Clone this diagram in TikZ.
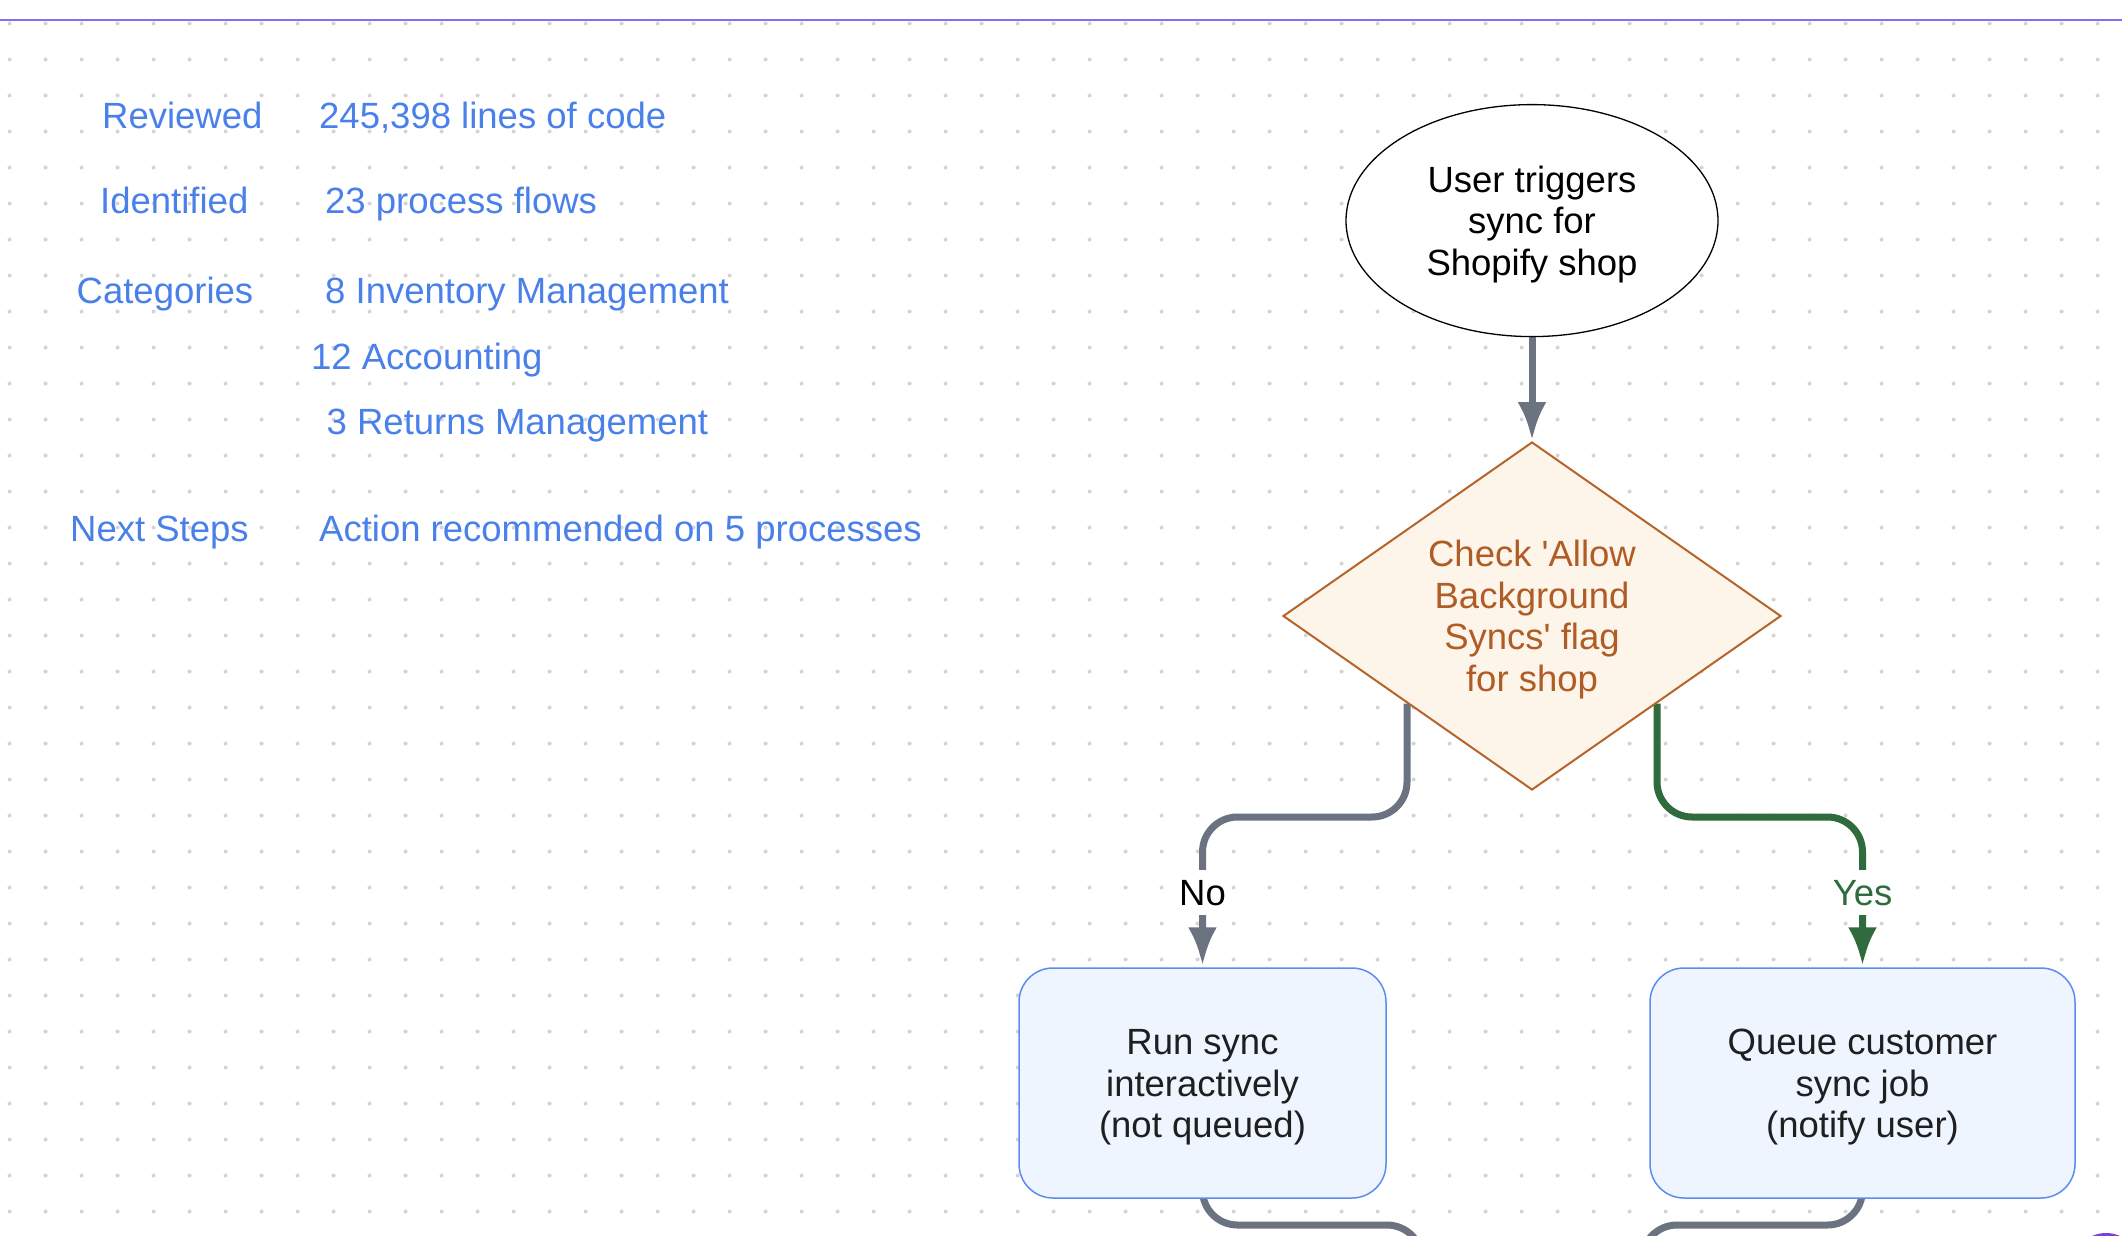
\documentclass[tikz,border=0pt]{standalone}
\usepackage{fontspec}
\setmainfont{Liberation Sans}
\usetikzlibrary{shapes.geometric,arrows.meta,calc,backgrounds}
\definecolor{dotc}{HTML}{D4D4D8}
\definecolor{txtblue}{HTML}{4A80EA}
\definecolor{linegray}{HTML}{6B7280}
\definecolor{yesgreen}{HTML}{2F6B3C}
\definecolor{decfill}{HTML}{FDF4EA}
\definecolor{decdraw}{HTML}{B5652B}
\definecolor{dectext}{HTML}{B05C26}
\definecolor{boxfill}{HTML}{EEF5FF}
\definecolor{boxdraw}{HTML}{5B8DEF}
\definecolor{boxtext}{HTML}{1F1F1F}
\definecolor{topline}{HTML}{8B6CF2}
\definecolor{fabc}{HTML}{7E3FD6}
\newcommand\diagfont{\fontsize{36.5pt}{41.5pt}\selectfont}
\newcommand\highstrut{\rule{0pt}{34pt}}
\begin{document}
\begin{tikzpicture}[x=1pt,y=-1pt,
  stat/.style={anchor=base west, inner sep=0pt, text=txtblue, font=\diagfont},
  startnode/.style={ellipse, draw=black, line width=1.3pt, fill=white, minimum width=372pt, minimum height=232pt, inner sep=0pt, align=center, font=\diagfont},
  decnode/.style={diamond, aspect=1.431, draw=decdraw, fill=decfill, line width=2pt, minimum width=498pt, minimum height=348pt, inner sep=0pt, align=center, text=dectext, font=\diagfont},
  procbox/.style={rectangle, rounded corners=34pt, draw=boxdraw, fill=boxfill, line width=1.5pt, minimum height=230pt, inner sep=0pt, align=center, text=boxtext, font=\diagfont},
  conn/.style={line width=7pt, rounded corners=35pt},
  tipend/.style={-{Latex[length=38pt,width=29pt]}},
  edgelbl/.style={fill=white, inner xsep=3pt, inner ysep=9.5pt, text height=26pt, text depth=0pt, font=\diagfont}
]
\useasboundingbox (0,0) rectangle (2122,1236);
\clip (0,0) rectangle (2122,1236);
\begin{scope}[on background layer]
  \fill[white] (0,0) rectangle (2122,1236);
  \foreach \i in {0,...,58} {
    \foreach \j in {0,...,33} {
      \fill[dotc] (9.6+36*\i, 23.5+36*\j) circle (2pt);
    }
  }
\end{scope}
\draw[topline, line width=2.2pt] (0,20) -- (2122,20);

% left statistics
\node[stat] (l1) at (102,128.5) {Reviewed};
\node[stat] (r1) at (319,128.5) {245,398 lines of code};
\node[stat] (l2) at (100,213) {Identified};
\node[stat] (r2) at (325,213.5) {23 process flows};
\node[stat] (l3) at (76.5,303.5) {Categories};
\node[stat] (r3) at (325,303) {8 Inventory Management};
\node[stat] (r4) at (311,369.5) {12 Accounting};
\node[stat] (r5) at (326.5,434.5) {3 Returns Management};
\node[stat] (l4) at (70,541) {Next Steps};
\node[stat] (r6) at (319,541) {Action recommended on 5 processes};

% flowchart
\node[startnode] (start) at (1532,220.6) {\highstrut User triggers\\sync for\\Shopify shop};
\node[decnode] (chk) at (1532,616) {\highstrut Check \textquotesingle Allow\\Background\\Syncs\textquotesingle{} flag\\for shop};
\node[procbox, minimum width=367pt] (run) at (1202.5,1083) {\highstrut Run sync\\interactively\\(not queued)};
\node[procbox, minimum width=425pt] (queue) at (1862.5,1083) {\highstrut Queue customer\\sync job\\(notify user)};

\coordinate (nl) at ($(chk.west)!0.5!(chk.south)$);
\coordinate (nr) at ($(chk.east)!0.5!(chk.south)$);
\coordinate (hy) at (0,817);
\coordinate (hb) at (0,1225);
\coordinate (lowl) at (1422,1330);
\coordinate (lowr) at (1642,1330);

\begin{scope}[on background layer]
  \draw[conn, tipend, linegray, shorten >=1pt] (start.south) -- (chk.north);
  \draw[conn, tipend, linegray, shorten >=2pt] (nl) -- (nl |- hy) -- (run.north |- hy) -- (run.north);
  \draw[conn, tipend, yesgreen, shorten >=2pt] (nr) -- (nr |- hy) -- (queue.north |- hy) -- (queue.north);
  \draw[conn, linegray] (run.south) -- (run.south |- hb) -- (lowl |- hb) -- (lowl);
  \draw[conn, linegray] (queue.south) -- (queue.south |- hb) -- (lowr |- hb) -- (lowr);
\end{scope}

\node[edgelbl, text=black] (nolbl) at (run.north |- 0,892) {No};
\node[edgelbl, text=yesgreen] (yeslbl) at (queue.north |- 0,892) {Yes};

\fill[fabc] (2106,1267) circle (34pt);
\end{tikzpicture}
\end{document}
